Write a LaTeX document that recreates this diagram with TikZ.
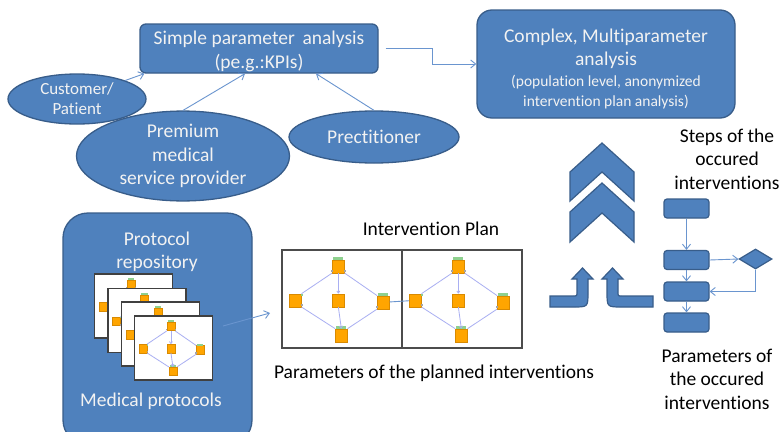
\documentclass[tikz,border=0pt]{standalone}
\usepackage{fontspec}
\setmainfont[Ligatures=NoCommon]{Carlito}
\usetikzlibrary{arrows.meta,shapes.geometric,calc}
\definecolor{obfill}{HTML}{4F81BD}
\definecolor{obdraw}{HTML}{385D8A}
\definecolor{obline}{HTML}{6A95CF}
\definecolor{obtext}{HTML}{F2F2F2}
\definecolor{mini}{HTML}{FFA500}
\definecolor{miniborder}{HTML}{D98A00}
\definecolor{miniedge}{HTML}{A9AFF2}
\definecolor{tabgreen}{HTML}{8ED08E}
\tikzset{
  bigfont/.style={font=\fontsize{19.5}{23.5}\selectfont},
  bluebox/.style={draw=obdraw, fill=obfill, line width=1.3pt, text=obtext, align=center, inner sep=0},
  ell/.style={ellipse, draw=obdraw, fill=obfill, line width=1.3pt, text=obtext, align=center, inner sep=0},
  conn/.style={draw=obline, line width=0.9pt, -{Straight Barb[length=5pt,width=8pt]}},
  page/.style={draw=black!75, fill=white, line width=1.2pt, minimum width=78, minimum height=64, inner sep=0},
  panel/.style={draw=black!70, fill=white, line width=1.3pt, minimum width=120, minimum height=98, inner sep=0},
  flowbox/.style={draw=obdraw, fill=obfill, line width=1.2pt, rounded corners=3, minimum width=45, minimum height=19, inner sep=0},
  mbox/.style={draw=miniborder, fill=mini, line width=0.4pt, minimum width=12, minimum height=13, inner sep=0},
  medge/.style={draw=miniedge, line width=0.8pt},
  mpin/.style={fill=black!35},
  minidiag/.pic={
    \node[mbox] (-t) at (57,17) {};
    \node[mbox] (-l) at (14,51) {};
    \node[mbox] (-c) at (57,51) {};
    \node[mbox] (-r) at (102,53) {};
    \node[mbox] (-b) at (60,86) {};
    \fill[tabgreen] (52,7.5) rectangle (62,10.5);
    \fill[tabgreen] (97,43.5) rectangle (107,46.5);
    \fill[tabgreen] (55,76.5) rectangle (65,79.5);
    \fill[tabgreen] (20,44.5) rectangle (22,47);
    \fill[mpin] (49.5,21) rectangle (51.5,23);
    \fill[mpin] (62.5,21) rectangle (64.5,23);
    \fill[mpin] (94.5,57) rectangle (96.5,59);
    \fill[mpin] (20,55) rectangle (22,57);
    \draw[medge] (-t.south west) -- (-l.north east);
    \draw[medge] (-t.south east) -- (-r.north west);
    \draw[medge] (-l.south east) -- (-b.north west);
    \draw[medge] (-r.south west) -- (-b.north east);
    \draw[medge, -{Straight Barb[length=2pt,width=3pt]}] (-t.south) -- (-c.north);
    \draw[medge, -{Straight Barb[length=2pt,width=3pt]}] (-c.south) -- (-b.north);
  }
}
\begin{document}
\begin{tikzpicture}[x=1pt,y=-1pt]
\clip (0,0) rectangle (781,431);
\fill[white] (0,0) rectangle (781,431);

% top analysis boxes
\node[bluebox, rounded corners=6, minimum width=238, minimum height=49, font=\fontsize{19.5}{24}\selectfont] (simple) at (259,48.5) {\rule{0pt}{20pt}Simple parameter\ \,analysis\\(pe.g.:KPIs)};
\node[bluebox, rounded corners=15, minimum width=258, minimum height=108, bigfont] (complex) at (606,64)
  {\rule{0pt}{23pt}Complex, Multiparameter\\analysis\\[-3pt]{\fontsize{15.5}{20}\selectfont (population level, anonymized}\\[-3pt]{\fontsize{15.5}{20}\selectfont intervention plan analysis)}};
\draw[conn] ([xshift=7pt]simple.east) -- ++(47,0) |- (complex.west);

% actors
\node[ell, minimum width=213, minimum height=88, bigfont] (prem) at (183,156) {Premium\\medical\\service provider};
\node[ell, minimum width=138, minimum height=50, font=\fontsize{17}{20}\selectfont] (cust) at (77,99) {Customer/\\Patient};
\node[ell, minimum width=170, minimum height=52, bigfont] (prac) at (374,137) {Prectitioner};
\draw[conn] (cust.21) -- ([xshift=5pt]simple.south west);
\draw[conn] (prem.north) -- ([xshift=-14pt]simple.south);
\draw[conn] (prac.north) -- ([xshift=57pt]simple.south);

% protocol repository
\node[bluebox, rounded corners=25, minimum width=189, minimum height=232] (repo) at (157.5,329) {};
\node[bigfont, text=obtext, align=center] (repotitle) at (157,252) {Protocol\\repository};
\node[bigfont, text=obtext] (repofoot) at (151,401) {Medical protocols};
\node[page] (pg1) at (133.5,306) {};
\pic[scale=0.65, transform shape] (m1) at (pg1.north west) {minidiag};
\node[page] (pg2) at (147,320.5) {};
\pic[scale=0.65, transform shape] (m2) at (pg2.north west) {minidiag};
\node[page] (pg3) at (160.5,334) {};
\pic[scale=0.65, transform shape] (m3) at (pg3.north west) {minidiag};
\node[page] (pg4) at (173.5,348) {};
\pic[scale=0.65, transform shape] (m4) at (pg4.north west) {minidiag};
\coordinate (ra) at (223,326);
\coordinate (rb) at (270,313);
\draw[conn] (ra) -- (rb);

% intervention plan
\node[bigfont] (plantitle) at (431,229) {Intervention Plan};
\node[panel] (planL) at (342,299) {};
\node[panel] (planR) at (462,299) {};
\pic (p1) at (planL.north west) {minidiag};
\pic (p2) at (planR.north west) {minidiag};
\draw[draw=obline, line width=0.9pt] (p1-r) -- (p2-l);
\node[bigfont] (planparams) at (434,373) {Parameters of the planned interventions};

% chevrons
\filldraw[fill=obfill, draw=obdraw, line width=1.2pt] (602,143) -- (634,172) -- (634,201) -- (602,172) -- (570,201) -- (570,172) -- cycle;
\filldraw[fill=obfill, draw=obdraw, line width=1.2pt] (602,183) -- (634,212) -- (634,242) -- (602,213) -- (570,242) -- (570,212) -- cycle;

% bent-up arrows
\filldraw[fill=obfill, draw=obdraw, line width=1.2pt] (550,296) -- (573,296) .. controls (577,296) .. (577,292) -- (577,279) -- (572,279) -- (582.5,268) -- (593,279) -- (588,279) -- (588,292) .. controls (588,307) .. (573,307) -- (550,307) -- cycle;
\filldraw[fill=obfill, draw=obdraw, line width=1.2pt] (653,296) -- (622,296) .. controls (618,296) .. (618,292) -- (618,279) -- (623,279) -- (612.5,268) -- (602,279) -- (607,279) -- (607,292) .. controls (607,307) .. (622,307) -- (653,307) -- cycle;

% flowchart
\node[bigfont, align=center] (steps) at (727,159) {Steps of the\\occured\\interventions};
\node[flowbox] (f1) at (686.5,208.5) {};
\node[flowbox] (f2) at (686.5,260) {};
\node[flowbox] (f3) at (686.5,291.5) {};
\node[flowbox] (f4) at (686.5,322.5) {};
\node[diamond, draw=obdraw, fill=obfill, line width=1.2pt, minimum width=33, minimum height=20, inner sep=0] (fd) at (755.5,259) {};
\draw[conn] (f1) -- (f2);
\draw[conn] (f2) -- (f3);
\draw[conn] (f3) -- (f4);
\draw[conn] (f2.east) -- (fd.west);
\draw[conn] (fd.south) |- (f3.east);
\node[bigfont, align=center] (params) at (717,379) {Parameters of\\the occured\\interventions};
\end{tikzpicture}
\end{document}
